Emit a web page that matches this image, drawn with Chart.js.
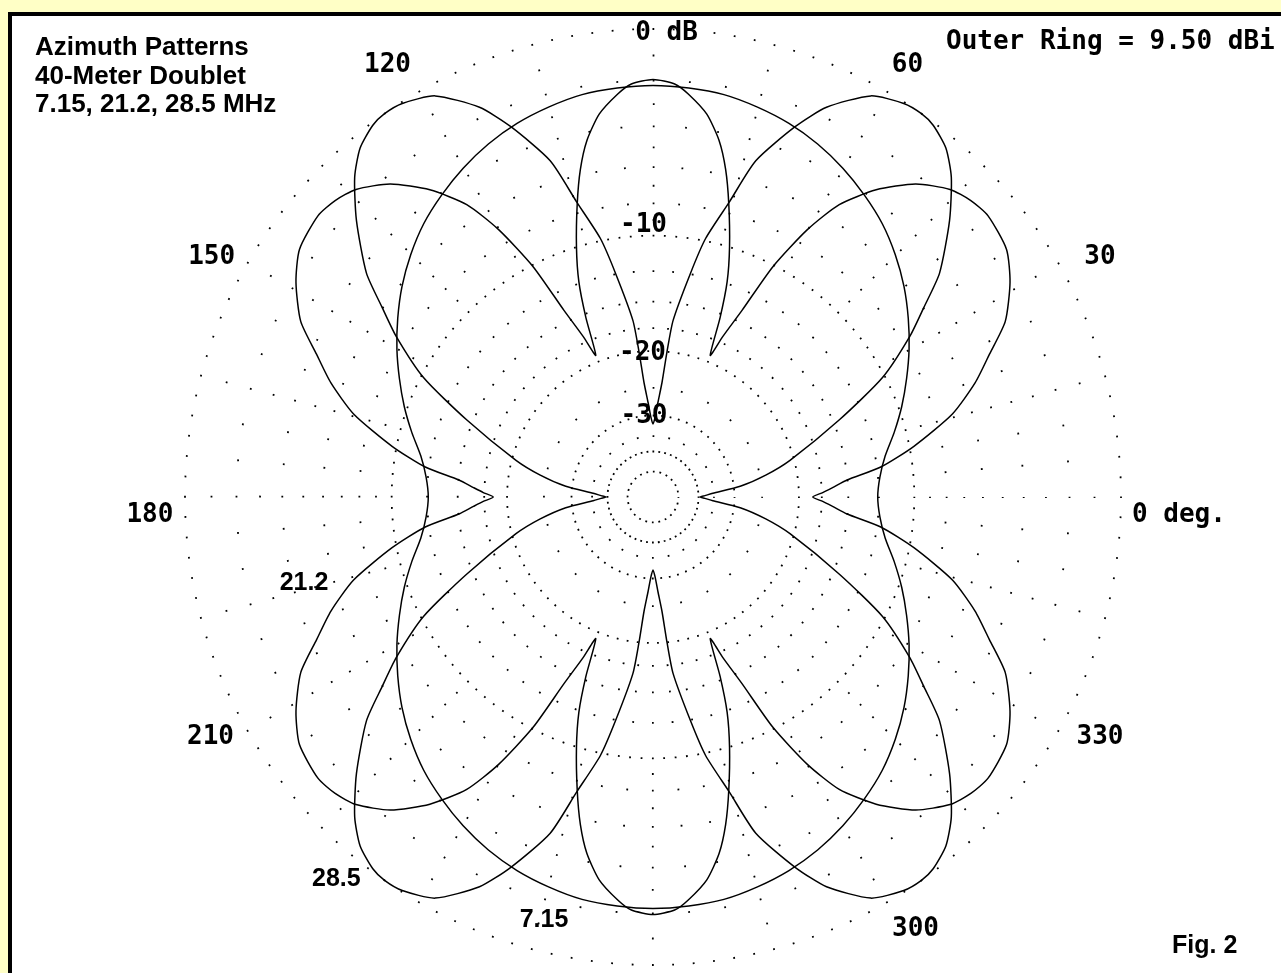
<!DOCTYPE html>
<html><head><meta charset="utf-8">
<script src="https://cdn.jsdelivr.net/npm/chart.js@4.4.1/dist/chart.umd.min.js"></script>
<style>
html,body{margin:0;padding:0;width:1281px;height:973px;overflow:hidden;background:#FFFFC6;}
#frame{position:absolute;left:8px;top:12px;width:1400px;height:1100px;background:#fff;border:4px solid #000;}
#c{position:absolute;left:0;top:0;}
</style></head><body>
<div id="frame"></div>
<canvas id="c" width="1281" height="973"></canvas>
<script>
// ---- data: azimuth (deg, one quadrant 0-90; patterns are symmetric about both axes)
// ---- gain in dB relative to the outer ring (outer ring = 9.50 dBi), ARRL log scale
const az715 = [0,5,10,15,20,25,30,35,40,45,50,55,60,65,70,75,80,85,90];
const db715 = [-12.59,-12.36,-11.77,-10.78,-9.78,-8.83,-7.88,-6.98,-6.12,-5.35,-4.66,-4.10,-3.59,-3.15,-2.80,-2.54,-2.33,-2.25,-2.21];

const az212 = [0,1.5,3,5,7.5,11,15.5,19.5,23,26.5,31,35,40,43,46,50,54,57.5,60,62.5,64.5,66.5,68,69.5,71,73,75.5,77.5,79.5,82,85,87,90];
const db212 = [-18.44,-17.40,-16.42,-15.04,-12.21,-9.71,-7.03,-5.40,-4.24,-2.97,-2.00,-1.39,-1.16,-1.27,-1.55,-2.33,-3.59,-5.15,-7.14,-10.11,-14.02,-16.90,-19.21,-15.31,-12.36,-9.97,-7.48,-5.71,-4.38,-3.28,-2.50,-2.12,-1.96];

const az285 = [0,1.5,3.5,7,11,15,22.5,27.5,32,35,38,43,47,50,53,55,57.5,61.5,66,69,73,75.5,78.5,80.5,83.5,84.5,85.5,87,88.5,90];
const db285 = [-39.46,-37.76,-35.27,-28.70,-24.11,-20.49,-14.44,-10.17,-7.48,-5.96,-4.33,-2.46,-1.16,-0.46,-0.09,0.00,-0.05,-0.43,-1.59,-2.84,-4.91,-7.37,-9.84,-12.44,-16.61,-20.01,-24.11,-27.39,-30.33,-31.91];

const seriesNames = ['7.15','21.2','28.5'];

// grid rings (dB) and angular spacing of their dots (deg)
const ringDb   = [0,-1,-2,-3,-4,-5,-6,-7,-8,-9,-10,-12.5,-15,-17.5,-20,-25,-30,-35,-40,-50];
const ringStep = [2.5,15,5,15,5,15,5,15,5,15,2.5,5,5,5,4,15,6,15,7.5,15];

// angle labels
const angleLabels = ['0 deg.','30','60','120','150','180','210','300','330'];
const dbLabels = ['0 dB','-10','-20','-30'];

// ---- helpers
const STEPS = 720; // 0.5 degree per category
const arrl = db => Math.pow(0.89, -db / 2);
const idxOf = phi => (((STEPS - 2 * phi) % STEPS) + STEPS) % STEPS;
function buildSeries(az, db) {
  const out = new Array(STEPS).fill(null);
  az.forEach((a, j) => {
    const v = arrl(db[j]);
    [a, 180 - a, 180 + a, 360 - a].forEach(phi => { out[Math.round(idxOf(phi))] = v; });
  });
  return out;
}
const cats = Array.from({length: STEPS}, (_, i) => String(((STEPS - i) % STEPS) / 2));

const DOT = 1.8;
const labelPos = {
  '0 deg.': [358.3, 526.2], '30': [28.43, 508.3], '60': [59.64, 503.5], '120': [121.46, 508.8],
  '150': [151.26, 503.3], '180': [181.8, 503.3], '210': [208.27, 502.4], '300': [301.42, 503.5], '330': [331.97, 506.4],
  '0 dB': [88.34, 466.7], '-10': [91.98, 274.7], '-20': [94.11, 146.4], '-30': [96.19, 83.5]
};
const seriesLabelPos = {'7.15': [255.47, 434.4], '21.2': [193.53, 359], '28.5': [230.23, 495]};

const textPlugin = {
  id: 'texts',
  afterDraw(chart) {
    const ctx = chart.ctx, s = chart.scales.r;
    const k = s.drawingArea / 468;
    const at = (a, rpx) => s.getPointPosition(idxOf(a), rpx * k);
    ctx.save();
    ctx.fillStyle = '#000';
    ctx.textBaseline = 'alphabetic';
    ctx.font = 'bold 26px "DejaVu Sans Mono"';
    ctx.textAlign = 'center';
    angleLabels.concat(dbLabels).forEach(t => {
      const [a, r] = labelPos[t];
      const p = at(a, r);
      ctx.fillText(t, p.x, p.y + 9.3);
    });
    ctx.textAlign = 'left';
    ctx.fillText('Outer Ring = 9.50 dBi', 946, 49);
    ctx.font = 'bold 25px "Liberation Sans"';
    ctx.textAlign = 'center';
    seriesNames.forEach(t => {
      const [a, r] = seriesLabelPos[t];
      const p = at(a, r);
      ctx.fillText(t, p.x, p.y + 9);
    });
    ctx.textAlign = 'left';
    ctx.font = 'bold 26px "Liberation Sans"';
    ctx.fillText('Azimuth Patterns', 35, 55);
    ctx.fillText('40-Meter Doublet', 35, 84);
    ctx.fillText('7.15, 21.2, 28.5 MHz', 35, 112);
    ctx.font = 'bold 25px "Liberation Sans"';
    ctx.fillText('Fig. 2', 1172, 953);
    ctx.restore();
  }
};

const mk = (name, az, db) => ({
  label: name, data: buildSeries(az, db), spanGaps: true, fill: false,
  borderColor: '#000', borderWidth: 1.5, pointRadius: 0, pointHoverRadius: 0, tension: 0.22
});

new Chart(document.getElementById('c'), {
  type: 'radar',
  data: {
    labels: cats,
    datasets: [mk('7.15', az715, db715), mk('21.2', az212, db212), mk('28.5', az285, db285)]
  },
  options: {
    responsive: false, animation: false,
    layout: {padding: {left: 185, top: 29, right: 160, bottom: 8}},
    plugins: {legend: {display: false}, tooltip: {enabled: false}},
    scales: {
      r: {
        min: 0, max: 1, startAngle: 90,
        angleLines: {display: false},
        pointLabels: {display: false},
        ticks: {display: false},
        grid: {circular: true, color: '#000', lineWidth: DOT},
        border: {
          dash: (c) => {
            const i = c.index - 1;
            if (i < 0 || i >= ringStep.length) return [];
            const r = c.scale.getDistanceFromCenterForValue(c.tick.value);
            const seg = 2 * Math.PI * r / (360 / ringStep[i]);
            return [DOT, seg - DOT];
          },
          dashOffset: DOT / 2
        },
        afterBuildTicks: (scale) => {
          scale.ticks = [{value: 0}].concat(ringDb.map(d => ({value: arrl(d)})));
        }
      }
    }
  },
  plugins: [textPlugin]
});
</script>
</body></html>
